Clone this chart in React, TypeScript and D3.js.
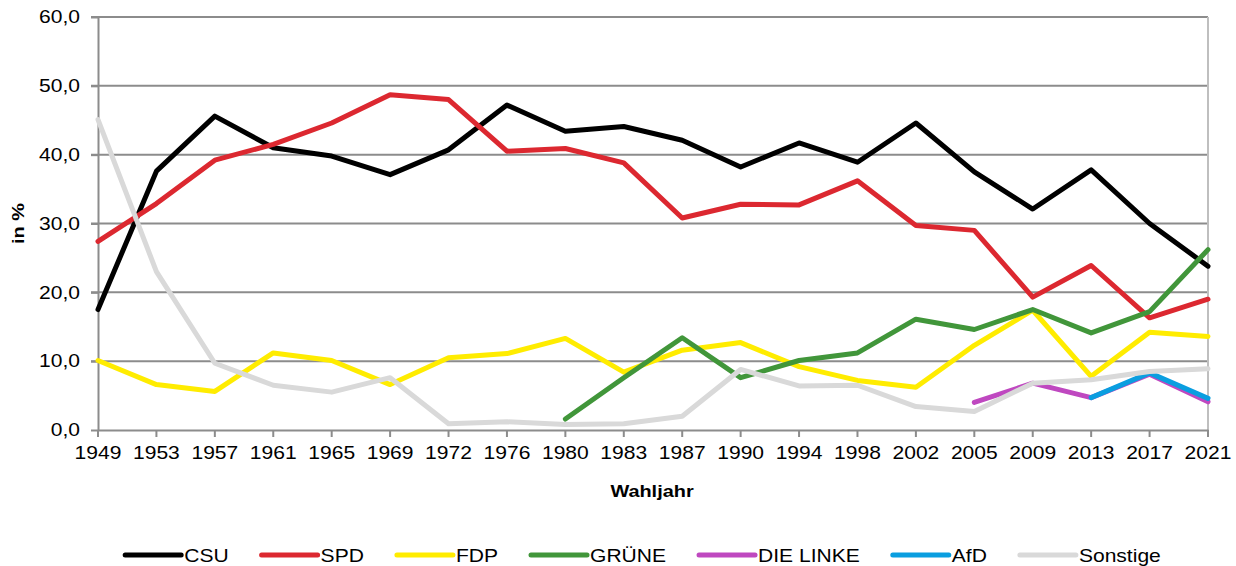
import React, { useEffect, useRef } from 'react';
import * as d3 from 'd3';

const years = ['1949', '1953', '1957', '1961', '1965', '1969', '1972', '1976', '1980', '1983', '1987', '1990', '1994', '1998', '2002', '2005', '2009', '2013', '2017', '2021'];

const csu = [17.5, 37.6, 45.6, 41.0, 39.8, 37.1, 40.7, 47.2, 43.4, 44.1, 42.1, 38.2, 41.7, 38.9, 44.6, 37.5, 32.1, 37.8, 30.0, 23.8];
const spd = [27.4, 32.9, 39.2, 41.5, 44.6, 48.7, 48.0, 40.5, 40.9, 38.8, 30.8, 32.8, 32.7, 36.2, 29.7, 29.0, 19.3, 23.9, 16.3, 19.0];
const fdp = [10.1, 6.6, 5.6, 11.2, 10.1, 6.6, 10.5, 11.1, 13.3, 8.4, 11.6, 12.7, 9.2, 7.2, 6.2, 12.3, 17.4, 7.8, 14.2, 13.6];
const gruene = [null, null, null, null, null, null, null, null, 1.6, 7.6, 13.4, 7.6, 10.1, 11.2, 16.1, 14.6, 17.5, 14.1, 17.2, 26.2];
const linke = [null, null, null, null, null, null, null, null, null, null, null, null, null, null, null, 4.0, 6.8, 4.7, 8.1, 4.1];
const afd = [null, null, null, null, null, null, null, null, null, null, null, null, null, null, null, null, null, 4.7, 8.3, 4.6];
const sonstige = [45.1, 23.0, 9.7, 6.5, 5.5, 7.6, 0.9, 1.2, 0.8, 0.9, 2.0, 8.8, 6.4, 6.5, 3.4, 2.7, 6.8, 7.3, 8.5, 8.9];

const yTicks = [0, 10, 20, 30, 40, 50, 60];

const series = [
  { name: 'CSU', values: csu, color: '#000000' },
  { name: 'SPD', values: spd, color: '#dc2830' },
  { name: 'FDP', values: fdp, color: '#ffec00' },
  { name: 'GRÜNE', values: gruene, color: '#41963a' },
  { name: 'DIE LINKE', values: linke, color: '#bf48c0' },
  { name: 'AfD', values: afd, color: '#0a9ee0' },
  { name: 'Sonstige', values: sonstige, color: '#d9d9d9' },
];

export default function App() {
  const ref = useRef<SVGSVGElement>(null);

  useEffect(() => {
    const width = 1236;
    const height = 566;
    const margin = { top: 17, right: 28, bottom: 136, left: 98 };
    const font = '"Liberation Sans", Arial, sans-serif';
    const grid = '#8c8c8c';
    const sx = 1.17; // text in the original is a bit stretched
    const fs = 18;

    const svg = d3.select(ref.current);
    svg.selectAll('*').remove();

    const x = d3
      .scalePoint<string>()
      .domain(years)
      .range([margin.left, width - margin.right]);

    const y = d3
      .scaleLinear()
      .domain([0, 60])
      .range([height - margin.bottom, margin.top]);

    // gridlines
    svg
      .append('g')
      .selectAll('line')
      .data(yTicks.filter((d) => d > 0))
      .join('line')
      .attr('x1', margin.left - 7)
      .attr('x2', width - margin.right)
      .attr('y1', (d) => y(d))
      .attr('y2', (d) => y(d))
      .attr('stroke', grid)
      .attr('stroke-width', 2);

    // right border
    svg
      .append('line')
      .attr('x1', width - margin.right)
      .attr('x2', width - margin.right)
      .attr('y1', margin.top)
      .attr('y2', y(0))
      .attr('stroke', '#bfbfbf')
      .attr('stroke-width', 2);

    // y axis
    const yAxis = svg
      .append('g')
      .attr('transform', `translate(${margin.left},0)`)
      .call(
        d3
          .axisLeft(y)
          .tickValues(yTicks)
          .tickSize(7)
          .tickSizeOuter(0)
          .tickPadding(11)
          .tickFormat((d) => d3.format('.1f')(d as number).replace('.', ',')),
      );
    yAxis.selectAll('path,line').attr('stroke', grid).attr('stroke-width', 2);
    yAxis
      .selectAll('text')
      .attr('font-size', fs)
      .attr('font-family', font)
      .attr('fill', '#000')
      .attr('x', -18 / sx)
      .attr('transform', `scale(${sx},1)`);

    // x axis
    const xAxis = svg
      .append('g')
      .attr('transform', `translate(0,${y(0)})`)
      .call(d3.axisBottom(x).tickSize(7).tickSizeOuter(0).tickPadding(9));
    xAxis.selectAll('path,line').attr('stroke', grid).attr('stroke-width', 2);
    xAxis
      .selectAll('text')
      .attr('font-size', fs)
      .attr('font-family', font)
      .attr('fill', '#000')
      .attr('transform', `scale(${sx},1)`);
    xAxis.selectAll('.tick').attr('transform', (d) => `translate(${x(d as string)},0)`);

    // axis titles
    svg
      .append('text')
      .attr('transform', `translate(24,${(margin.top + y(0)) / 2}) rotate(-90) scale(${sx},1)`)
      .attr('text-anchor', 'middle')
      .attr('font-family', font)
      .attr('font-weight', 'bold')
      .attr('font-size', 17)
      .text('in %');

    svg
      .append('text')
      .attr('transform', `translate(652,497) scale(${sx},1)`)
      .attr('text-anchor', 'middle')
      .attr('font-family', font)
      .attr('font-weight', 'bold')
      .attr('font-size', 17)
      .text('Wahljahr');

    // lines
    const line = d3
      .line<number | null>()
      .defined((d) => d !== null)
      .x((d, i) => x(years[i]) as number)
      .y((d) => y(d as number));

    svg
      .append('g')
      .selectAll('path')
      .data(series)
      .join('path')
      .attr('d', (s) => line(s.values))
      .attr('fill', 'none')
      .attr('stroke', (s) => s.color)
      .attr('stroke-width', 5)
      .attr('stroke-linejoin', 'round')
      .attr('stroke-linecap', 'round');

    // legend
    const legend = svg.append('g');
    let lx = 0;
    series.forEach((s) => {
      const g = legend.append('g').attr('transform', `translate(${lx},0)`);
      g.append('line')
        .attr('x1', 0)
        .attr('x2', 56)
        .attr('y1', 0)
        .attr('y2', 0)
        .attr('stroke', s.color)
        .attr('stroke-width', 5)
        .attr('stroke-linecap', 'round');
      const t = g
        .append('text')
        .attr('transform', `translate(59,7) scale(${sx},1)`)
        .attr('font-family', font)
        .attr('font-size', fs)
        .text(s.name);
      const w = (t.node() as SVGTextElement).getComputedTextLength() * sx;
      lx += 59 + w + 33;
    });
    const total = lx - 33;
    legend.attr('transform', `translate(${643 - total / 2},555)`);
  }, []);

  return (
    <svg
      ref={ref}
      width={1236}
      height={566}
      style={{ position: 'absolute', left: 0, top: 0, background: '#fff' }}
    />
  );
}
